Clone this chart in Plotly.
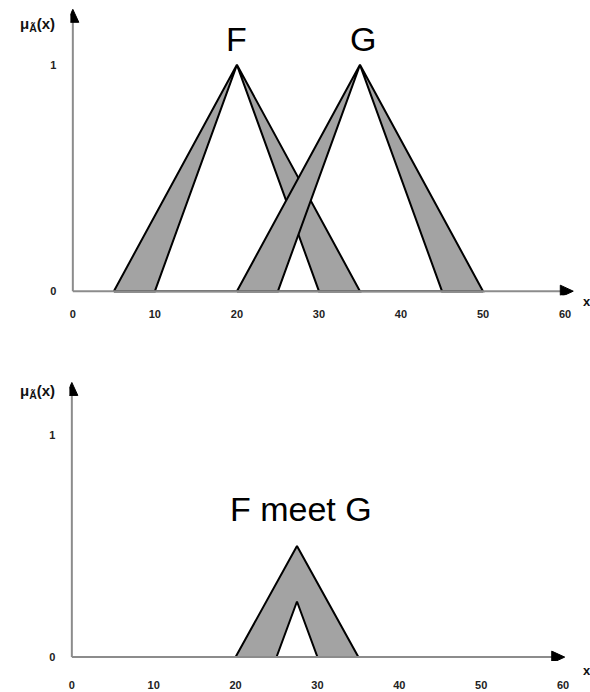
import plotly.graph_objects as go

# ---- data ----
x_ticks = [0, 10, 20, 30, 40, 50, 60]
y_ticks = [0, 1]
tri_y = [0, 1, 0]
F_upper_x = [5, 20, 35]
F_lower_x = [10, 20, 30]
G_upper_x = [20, 35, 50]
G_lower_x = [25, 35, 45]
meet_upper_x = [20, 27.5, 35]
meet_upper_y = [0, 0.5, 0]
meet_lower_x = [25, 27.5, 30]
meet_lower_y = [0, 0.25, 0]
top_base = [5, 50]
bottom_base = [10, 35]

GRAY = "#a3a3a3"
AX = "#8c8c8c"
FONT = "Liberation Sans"

fig = go.Figure()


def band(ux, uy, lx, ly, xa, ya):
    xs = list(ux) + list(reversed(lx)) + [ux[0]]
    ys = list(uy) + list(reversed(ly)) + [uy[0]]
    fig.add_trace(go.Scatter(x=xs, y=ys, mode="lines", fill="toself",
                             fillcolor=GRAY, line=dict(color="black", width=2),
                             xaxis=xa, yaxis=ya, hoverinfo="skip",
                             showlegend=False, cliponaxis=False))


# axis lines (gray)
fig.add_shape(type="line", x0=0, y0=0, x1=60.0, y1=0, xref="x", yref="y",
              line=dict(color=AX, width=2))
fig.add_shape(type="line", x0=0, y0=0, x1=0, y1=1.2, xref="x", yref="y",
              line=dict(color=AX, width=2))
fig.add_shape(type="line", x0=0, y0=0, x1=59.0, y1=0, xref="x2", yref="y2",
              line=dict(color=AX, width=2))
fig.add_shape(type="line", x0=0, y0=0, x1=0, y1=1.19, xref="x2", yref="y2",
              line=dict(color=AX, width=2))

# black baselines
fig.add_trace(go.Scatter(x=top_base, y=[0, 0], mode="lines",
                         line=dict(color="black", width=2), xaxis="x", yaxis="y",
                         showlegend=False, hoverinfo="skip", cliponaxis=False))
fig.add_trace(go.Scatter(x=bottom_base, y=[0, 0], mode="lines",
                         line=dict(color="black", width=2), xaxis="x2", yaxis="y2",
                         showlegend=False, hoverinfo="skip", cliponaxis=False))

band(F_upper_x, tri_y, F_lower_x, tri_y, "x", "y")
band(G_upper_x, tri_y, G_lower_x, tri_y, "x", "y")
band(meet_upper_x, meet_upper_y, meet_lower_x, meet_lower_y, "x2", "y2")


# arrowheads as filled triangles
def head_right(xt, xr, yr, kx, ky):
    L, W = 13 / kx, 6 / ky
    fig.add_shape(type="path", xref=xr, yref=yr,
                  path=f"M {xt},0 L {xt - L},{W} L {xt - L},{-W} Z",
                  fillcolor="black", line=dict(color="black", width=1))


def head_up(yt, xr, yr, kx, ky):
    L, W = 13 / ky, 6 / kx
    fig.add_shape(type="path", xref=xr, yref=yr,
                  path=f"M 0,{yt} L {W},{yt - L} L {-W},{yt - L} Z",
                  fillcolor="black", line=dict(color="black", width=1))


head_right(61.0, "x", "y", 8.217, 227)
head_up(1.245, "x", "y", 8.217, 227)
head_right(60.2, "x2", "y2", 8.2, 223)
head_up(1.235, "x2", "y2", 8.2, 223)

# labels
BIG = dict(family=FONT, size=34, color="black")
fig.add_annotation(x=19.96, y=1.02, xref="x", yref="y", text="F", showarrow=False,
                   font=BIG, yanchor="bottom")
fig.add_annotation(x=35.4, y=1.02, xref="x", yref="y", text="G", showarrow=False,
                   font=BIG, yanchor="bottom")
fig.add_annotation(x=28.0, y=0.57, xref="x2", yref="y2", text="F meet G", showarrow=False,
                   font=BIG, yanchor="bottom")

for yv in (1 - 25 / 692, 1 - 393 / 692):
    fig.add_annotation(x=56 / 590, y=yv, xref="paper", yref="paper",
                       text="<b>μ<sub>Ã</sub>(x)</b>", showarrow=False,
                       xanchor="right", yanchor="middle",
                       font=dict(family=FONT, size=15, color="#111"))
fig.add_annotation(x=581 / 590, y=1 - 302 / 692, xref="paper", yref="paper", text="<b>x</b>",
                   showarrow=False, xanchor="left", yanchor="middle",
                   font=dict(family=FONT, size=13, color="#111"))
fig.add_annotation(x=581 / 590, y=1 - 672 / 692, xref="paper", yref="paper", text="<b>x</b>",
                   showarrow=False, xanchor="left", yanchor="middle",
                   font=dict(family=FONT, size=13, color="#111"))

tickfont = dict(family=FONT, size=11, color="#222", weight="bold")
common_x = dict(tickvals=x_ticks, ticktext=[str(v) for v in x_ticks], showgrid=False,
                zeroline=False, showline=False, ticks="", tickfont=tickfont, fixedrange=True)
common_y = dict(tickvals=y_ticks, ticktext=[str(v) for v in y_ticks], showgrid=False,
                zeroline=False, showline=False, ticks="", tickfont=tickfont, fixedrange=True)

fig.update_layout(
    width=590, height=692,
    margin=dict(l=0, r=0, t=0, b=0),
    paper_bgcolor="white", plot_bgcolor="white",
    showlegend=False,
    xaxis=dict(domain=[69.5 / 590, 1], range=[-0.3, 63.04], anchor="y",
               ticklabelstandoff=11, **common_x),
    yaxis=dict(domain=[1 - 296 / 692, 1], range=[-0.0176, 1.2863], anchor="x",
               ticklabelstandoff=13, **common_y),
    xaxis2=dict(domain=[68.5 / 590, 1], range=[-0.3, 63.29], anchor="y2",
                ticklabelstandoff=16, **common_x),
    yaxis2=dict(domain=[1 - 663 / 692, 1 - 345 / 692], range=[-0.0179, 1.408], anchor="x2",
                ticklabelstandoff=13, **common_y),
)

fig.write_html("out.html", config={"displayModeBar": False},
               post_script="document.body.style.margin='0';document.body.style.overflow='hidden';")
